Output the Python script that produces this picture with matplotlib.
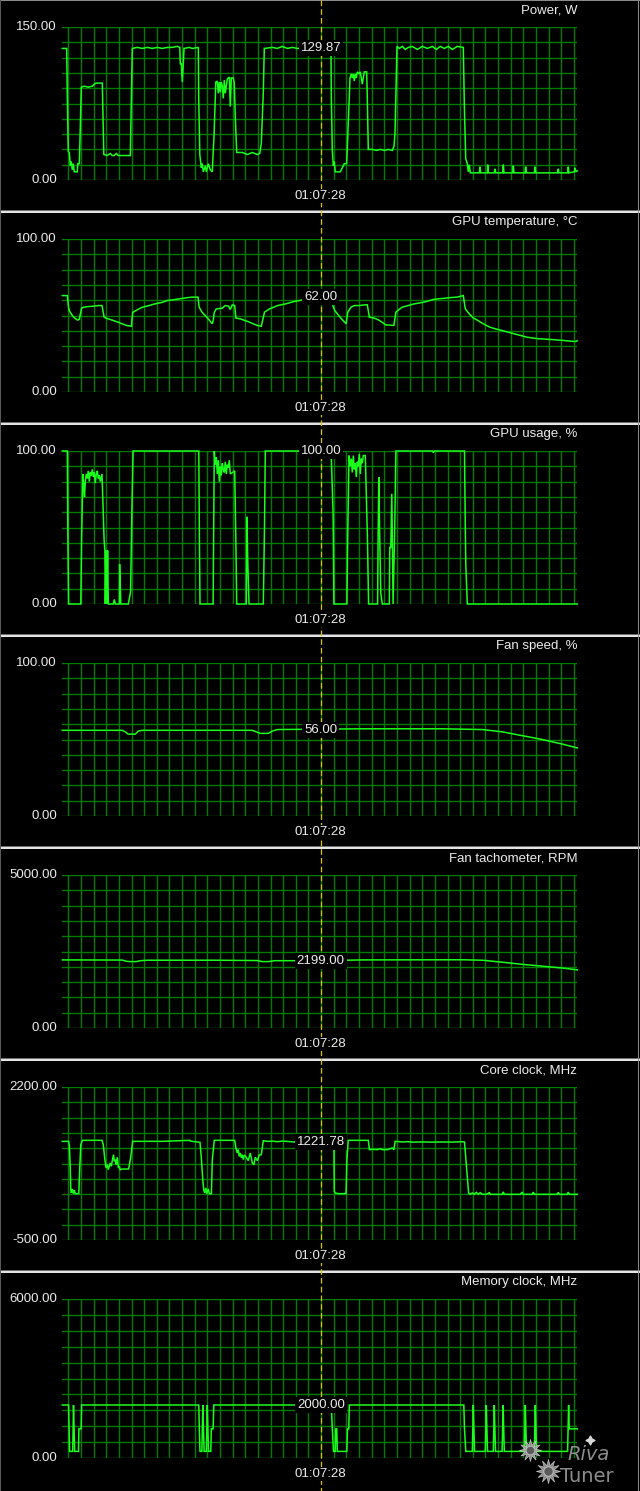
import matplotlib
matplotlib.use("Agg")
import matplotlib.pyplot as plt
import numpy as np
from matplotlib.patches import Rectangle

# ---------------- data ----------------
time_label = "01:07:28"
cursor_sample = 258.5
n_samples = 515

titles = ["Power, W", "GPU temperature, °C", "GPU usage, %", "Fan speed, %",
          "Fan tachometer, RPM", "Core clock, MHz", "Memory clock, MHz"]
y_min = [0, 0, 0, 0, 0, -500, 0]
y_max = [150, 100, 100, 100, 5000, 2200, 6000]
cursor_values = [129.87, 62.00, 100.00, 56.00, 2199.00, 1221.78, 2000.00]

power_pts = [
    (0, 129), (4.4, 129), (5, 82), (6, 28), (7, 27), (8, 14), (9, 18), (10, 10), (11, 16), (12, 8),
    (13, 8), (15, 8), (15.5, 16), (17, 16), (17.7, 40), (19, 91), (22, 92), (26, 91), (30, 92),
    (32, 94), (34, 95), (40, 95), (40.7, 62), (41.5, 25), (45, 24), (48, 26), (50, 24), (52, 24),
    (54, 26), (56, 24), (60, 24), (65, 24), (68, 24), (68.7, 62), (70, 129), (75, 130), (80, 129),
    (85, 130), (90, 129), (95, 130), (100, 129), (105, 130), (110, 130), (115, 131), (117.5, 130),
    (118, 114), (119, 114), (120, 96), (121, 114), (121.7, 129), (127, 130), (130, 129), (136, 130),
    (136.5, 76), (137.5, 25), (139, 12), (140, 16), (141, 8), (143, 14), (144, 8), (146, 16),
    (148, 10), (150, 8), (151, 30), (151.7, 42), (153, 82), (153.5, 96), (155, 97), (156, 85),
    (157, 96), (158, 86), (159, 96), (160, 92), (161, 80), (162, 98), (163, 85), (165, 99),
    (167, 101), (168, 72), (169, 100), (171, 100), (172, 95), (173, 62), (174.4, 27), (180, 27),
    (185, 25), (190, 27), (195, 25), (197.5, 26), (199, 36), (201, 86), (202, 129), (210, 130),
    (215, 129), (220, 131), (225, 129), (230, 130), (235, 129), (258, 129.87), (262, 129.87),
    (268.7, 124), (269, 82), (270, 29), (271, 14), (272, 18), (273, 8), (276, 8), (278, 8),
    (280, 12), (282, 16), (284.4, 16), (285.4, 41), (287, 83), (287.7, 100), (289, 104), (290, 100),
    (291, 104), (292, 97), (293, 104), (294, 100), (295, 106), (297, 104), (298, 106), (300, 94),
    (302, 106), (304.4, 106), (305, 80), (306, 30), (310, 30), (314, 29), (318, 30), (322, 29),
    (326, 30), (330, 29), (331.7, 33), (332.7, 46), (333.7, 90), (334.7, 131), (337, 129),
    (340, 131), (343, 128), (346, 130), (350, 131), (355, 128), (360, 131), (365, 129), (370, 131),
    (374, 128), (378, 131), (382, 129), (386, 131), (390, 128), (395, 131), (401, 130), (402, 75),
    (403.4, 21), (405, 16), (406, 8), (407, 15), (408, 7), (417, 7), (417.7, 13), (418.4, 7),
    (425, 7), (425.4, 15), (426, 7), (432, 7), (432.7, 11), (433.4, 7), (440.4, 7), (441, 15),
    (441.7, 7), (450.4, 7), (451, 14), (451.7, 7), (462.7, 7), (463.4, 13), (464, 7), (472, 7),
    (472.7, 13), (473.4, 7), (495.4, 7), (496, 11), (496.6, 7), (505.4, 7), (506, 13), (506.6, 7),
    (512, 8), (512.7, 12), (513.4, 8), (515, 9),
]

temp_pts = [
    (0, 63), (5, 63), (6.3, 55), (7.1, 53), (10, 50), (12, 48.5), (15.3, 47), (17, 47.5),
    (19.3, 54.8), (21.4, 55.4), (25, 55.8), (31.6, 56.1), (36, 56.5), (39.7, 56.5), (41.8, 49),
    (44, 48.2), (47.9, 47.4), (52, 46.5), (56, 45.6), (60.1, 44.5), (64.2, 43.5), (69.1, 43),
    (70.4, 52), (76.5, 54.3), (80, 55.4), (84.6, 56.1), (92.8, 57.6), (100, 58.6), (105, 59.8),
    (110, 60.2), (117.3, 60.9), (125.5, 61.7), (130, 62), (135.7, 62), (136.9, 55.4),
    (139.7, 52.2), (145.9, 47.8), (150, 44.6), (151, 47), (152, 52), (154, 54.3), (160, 54.8),
    (163, 56.5), (166.3, 56.1), (168, 54), (170, 57), (172.4, 56.5), (173.6, 48.3), (178, 47.8),
    (182.6, 46.7), (186, 46), (190.8, 44.6), (195, 43.5), (199, 43), (202.2, 52.2), (207.1, 54.3),
    (215.3, 56.5), (223.4, 57.6), (231.6, 59.1), (241.8, 60.4), (250, 61.3), (258.5, 62),
    (262, 62), (270.3, 57), (272.4, 53.3), (278.5, 48.3), (283.8, 44.6), (285.5, 52.2),
    (288.7, 55.4), (292, 56.5), (296.9, 56.5), (303, 57), (305, 57), (307.1, 48.9), (312, 48.3),
    (317.3, 46.7), (323.4, 43.9), (331.6, 43.5), (333.6, 52.2), (339.7, 55.4), (345.9, 56.5),
    (352, 57.6), (358.1, 58.3), (364, 59.1), (370.4, 60.4), (376, 60.9), (382.6, 61.3),
    (388, 61.7), (394.8, 62), (398, 62.5), (401, 63), (403, 54.3), (407, 51), (411.2, 48.3),
    (415, 47), (419.3, 45.2), (423, 43.9), (427.5, 42.4), (433, 41.3), (439.7, 40.2), (446, 39.1),
    (452, 38), (458, 37), (464.2, 35.9), (470, 35.3), (476.5, 34.8), (482, 34.6), (488.7, 34.3),
    (495, 34), (501, 33.7), (507, 33.3), (513.2, 33), (515, 33.5),
]

usage_pts = [
    (0, 100), (5, 100), (5.5, 50), (6.3, 0), (18.5, 0), (19.3, 43), (20.6, 85), (21.4, 78),
    (22.2, 70), (23, 80), (24, 85), (25, 82), (26, 87), (27, 80), (28, 86), (29, 84), (30, 88),
    (31, 83), (32, 86), (33, 79), (34, 85), (35, 87), (36, 82), (37, 84), (38, 80), (39.7, 85),
    (41.8, 42), (42.6, 35), (43, 0), (43.8, 35), (44.6, 0), (45.3, 35), (46, 0), (51, 0), (52, 3),
    (53, 0), (57, 0), (57.3, 26), (58.5, 0), (66, 0), (68.3, 8), (69.5, 58), (70.8, 100),
    (136.5, 100), (137, 50), (137.7, 0), (150.8, 0), (152, 100), (153, 91), (154, 96), (155, 85),
    (156, 94), (157, 80), (158, 90), (159, 84), (160, 92), (161, 88), (162, 86), (163, 93),
    (164, 85), (165, 91), (166, 89), (167, 94), (168, 85), (172.4, 87), (173.6, 40), (174.4, 0),
    (184, 0), (184.6, 57), (185.5, 27), (186.7, 0), (201, 0), (202.2, 50), (203, 100),
    (268, 100), (269.1, 94), (270.8, 59), (271.6, 0), (284.6, 0), (285.5, 48), (286.7, 97),
    (288, 90), (289, 95), (290, 86), (291, 97), (292, 88), (293, 92), (294, 83), (295, 93),
    (296, 90), (297, 98), (298, 85), (299, 95), (300, 92), (301, 97), (303, 97), (305.1, 44),
    (306.3, 0), (315.3, 0), (315.8, 42), (316.5, 83), (317.3, 48), (318.5, 7), (320, 0),
    (327, 0), (327.5, 37), (328.5, 37), (329.5, 72), (330.8, 0), (332.4, 50), (333.6, 100),
    (370, 100), (371, 99), (372, 100), (402.2, 100), (403, 50), (403.5, 26), (405, 0), (515, 0),
]

fan_pts = [
    (0, 56), (60, 56), (63, 55), (66, 53.5), (73, 53.5), (76, 55.5), (80, 56), (190, 56),
    (194, 55), (198, 54), (206, 54), (210, 55.5), (215, 56.5), (300, 57), (380, 57),
    (420, 56.5), (440, 55), (460, 52.5), (480, 50), (500, 47), (515, 44.5),
]

tach_pts = [
    (0, 2225), (60, 2220), (64, 2180), (68, 2170), (74, 2170), (78, 2200), (85, 2215),
    (150, 2215), (195, 2205), (200, 2170), (206, 2170), (212, 2200), (258.5, 2199), (300, 2225),
    (400, 2230), (420, 2215), (440, 2150), (460, 2080), (480, 2020), (500, 1960), (515, 1900),
]

core_pts = [
    (0, 1241), (6.3, 1241), (7.1, 1153), (7.9, 800), (8.5, 380), (9.1, 330), (10, 400), (11, 318),
    (12, 380), (13, 318), (15, 318), (16.5, 320), (17.3, 712), (18.5, 1182), (20.1, 1259),
    (39.7, 1259), (41, 1182), (42.6, 918), (43.8, 771), (45, 830), (46, 741), (47.9, 859),
    (49, 800), (50, 900), (51.2, 1006), (52, 890), (53.2, 918), (54, 830), (55, 960), (56.1, 771),
    (57, 800), (58, 741), (60.1, 753), (63, 753), (66.3, 753), (68.3, 947), (70.4, 1241),
    (100, 1241), (127.5, 1259), (128, 1245), (137.7, 1224), (138.9, 977), (140.6, 535),
    (141.5, 380), (142.5, 330), (143.5, 420), (144.5, 318), (146, 400), (147, 318), (149.1, 318),
    (150, 918), (152, 1259), (172.4, 1259), (173.6, 1124), (175, 1035), (176, 1094), (177, 977),
    (178, 1035), (179, 950), (180, 1006), (181, 918), (182, 1000), (184, 960), (186, 900),
    (188, 1035), (190, 860), (191.6, 829), (193, 960), (195, 900), (197, 1000), (199, 1006),
    (201, 1253), (205, 1240), (210, 1245), (215, 1235), (220, 1245), (225, 1240), (231.6, 1230),
    (258.5, 1221.78), (264, 1221.78), (271.6, 1241), (272, 359), (273, 330), (276, 318),
    (283.8, 318), (284.6, 918), (285.9, 1259), (306, 1259), (307.1, 1094), (310, 1100),
    (315, 1094), (318, 1110), (320, 1094), (325, 1094), (330, 1124), (331.6, 1094), (332.8, 1241),
    (340, 1230), (345, 1235), (350, 1228), (360, 1230), (370, 1228), (380, 1230), (390, 1228),
    (400, 1235), (402.2, 1230), (404.2, 800), (406.3, 330), (408, 306), (410, 330), (412, 306),
    (414, 340), (416, 306), (418, 335), (420, 306), (425, 310), (427, 340), (428, 306), (440, 306),
    (441, 350), (442, 306), (450, 306), (458, 306), (460, 345), (461, 306), (470, 306),
    (471, 345), (472, 306), (495, 306), (496, 340), (497, 306), (505, 306), (506, 345),
    (507, 306), (515, 306),
]

mem_pts = [
    (0, 2000), (6.3, 2000), (6.8, 1100), (7.3, 250), (10.4, 250), (10.8, 1100), (11.2, 2000),
    (11.8, 1100), (12.4, 250), (16.2, 250), (16.6, 1100), (18.8, 1100), (19.3, 2000),
    (136.5, 2000), (137, 1100), (137.7, 250), (139.6, 250), (140, 1100), (140.6, 2000),
    (141.2, 1100), (141.8, 250), (144, 250), (144.5, 1100), (145, 2000), (145.6, 1100),
    (146.2, 250), (148.5, 250), (149, 1100), (150.8, 1100), (151.5, 2000), (269, 2000),
    (270, 1100), (271.2, 250), (273, 250), (273.5, 1100), (274.5, 1100), (275, 250),
    (284.5, 250), (285.2, 1100), (286.5, 1100), (287, 2000), (401.5, 2000), (402.2, 1100),
    (403.5, 250), (410, 250), (410.5, 1100), (411, 2000), (411.6, 1100), (412.2, 250),
    (423, 250), (423.5, 1100), (424, 2000), (424.6, 1100), (425.2, 250), (431, 250),
    (431.5, 1100), (432, 2000), (432.6, 1100), (433.2, 250), (439.8, 250), (440.3, 1100),
    (440.8, 2000), (441.4, 1100), (442, 250), (462, 250), (462.5, 1100), (463, 2000),
    (463.6, 1100), (464.2, 250), (472, 250), (472.5, 1100), (473, 2000), (473.6, 1100),
    (474.2, 250), (505.3, 250), (505.8, 1100), (506.3, 2000), (506.9, 1100), (515, 1100),
]

series = [power_pts, temp_pts, usage_pts, fan_pts, tach_pts, core_pts, mem_pts]

# ---------------- style / layout ----------------
W, H = 640, 1491
GRID_L, GRID_R = 62.3, 577.3
CURSOR_X = 320.5
tops = [27 + 212 * k for k in range(7)]
bottoms = [180 + 212 * k for k in range(6)] + [1458]
separators = [211 + 212 * k for k in range(6)]

BG = "black"
GRID_C = "#007d00"
LINE_C = "#1aff1a"
TEXT_C = "#ececec"
CURSOR_C = "#d8c400"
FONT = "Liberation Sans"
FS = 9.5

fig = plt.figure(figsize=(W / 100, H / 100), dpi=100, facecolor=BG)

overlay = fig.add_axes([0, 0, 1, 1], zorder=10)
overlay.set_xlim(0, W)
overlay.set_ylim(H, 0)
overlay.axis("off")
overlay.patch.set_alpha(0)

vgrid = [6 + 12.64 * k for k in range(41)]

for k in range(7):
    top, bot = tops[k], bottoms[k]
    ax = fig.add_axes([GRID_L / W, 1 - bot / H, (GRID_R - GRID_L) / W, (bot - top) / H], zorder=1)
    ax.set_facecolor(BG)
    ax.set_xlim(0, n_samples)
    ax.set_ylim(y_min[k], y_max[k])
    ax.set_xticks(vgrid)
    ax.set_yticks(np.linspace(y_min[k], y_max[k], 11))
    ax.grid(True, color=GRID_C, lw=1.0)
    ax.set_axisbelow(True)
    ax.tick_params(length=0, labelleft=False, labelbottom=False)
    for sp in ax.spines.values():
        sp.set_visible(False)
    t = [p[0] for p in series[k]]
    v = [p[1] for p in series[k]]
    ax.plot(t, v, color=LINE_C, lw=1.1, clip_on=False, zorder=3, solid_joinstyle="miter")

    # texts
    overlay.text(GRID_R, top - 16.5, titles[k], ha="right", va="center", color=TEXT_C,
                 fontsize=FS, family=FONT, zorder=5)
    overlay.text(57, top, f"{y_max[k]:.2f}", ha="right", va="center", color=TEXT_C,
                 fontsize=FS, family=FONT, zorder=5)
    overlay.text(57, bot, f"{y_min[k]:.2f}", ha="right", va="center", color=TEXT_C,
                 fontsize=FS, family=FONT, zorder=5)
    overlay.text(CURSOR_X, bot + 16, time_label, ha="center", va="center", color=TEXT_C,
                 fontsize=FS, family=FONT, zorder=5,
                 bbox=dict(boxstyle="square,pad=0.1", fc=BG, ec="none"))
    overlay.text(cursor_sample, cursor_values[k], f"{cursor_values[k]:.2f}", transform=ax.transData,
                 ha="center", va="center", color=TEXT_C, fontsize=FS, family=FONT, zorder=6,
                 bbox=dict(boxstyle="square,pad=0.15", fc=BG, ec="none"))

# separators between panels
for y in separators:
    overlay.add_patch(Rectangle((0, y - 1), W, 1, fc="#6e6e6e", ec="none", zorder=1))
    overlay.add_patch(Rectangle((0, y), W, 2, fc="#e4e4e4", ec="none", zorder=1))
overlay.add_patch(Rectangle((0, 0), W, 1, fc="#8a8a8a", ec="none", zorder=1))
overlay.add_patch(Rectangle((W - 2, 0), 1, H, fc="#8a8a8a", ec="none", zorder=1))
overlay.add_patch(Rectangle((0, 0), 1, H, fc="#5a5a5a", ec="none", zorder=1))

# cursor line
overlay.plot([CURSOR_X, CURSOR_X], [0, H], color=CURSOR_C, lw=0.9, ls=(0, (4.5, 2.5)), zorder=3)

# RivaTuner watermark
for (gx, gy, r) in [(530, 1450, 11), (548, 1471, 12)]:
    overlay.scatter([gx], [gy], s=(2 * r * 0.72) ** 2, marker=(12, 1, 0), c="#9a9a9a",
                    edgecolors="#cfcfcf", linewidths=0.5, zorder=7, alpha=0.9)
    overlay.scatter([gx], [gy], s=(r * 0.8 * 0.72) ** 2, marker="o", c="#5a5a5a",
                    edgecolors="#bdbdbd", linewidths=0.8, zorder=8)
overlay.text(567, 1455, "Riva", ha="left", va="center", color="#9c9c9c", fontsize=14,
             family="DejaVu Sans", style="italic", zorder=7, alpha=0.9)
overlay.text(560, 1477, "Tuner", ha="left", va="center", color="#9c9c9c", fontsize=14,
             family="DejaVu Sans", zorder=7, alpha=0.9)
overlay.scatter([590], [1440], s=40, marker=(4, 1, 0), c="#d8d8d8", zorder=7)

fig.savefig("out.png", dpi=100, facecolor=BG)
